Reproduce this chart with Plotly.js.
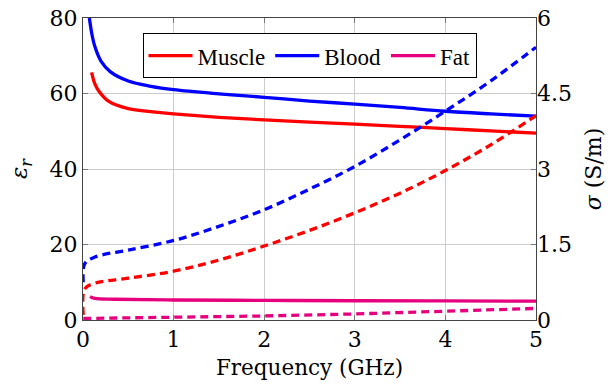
<!DOCTYPE html>
<html>
<head>
<meta charset="utf-8">
<script src="https://cdn.plot.ly/plotly-3.0.1.min.js"></script>
<style>
html,body{margin:0;padding:0;background:#fff;}
#chart{width:612px;height:389px;}
</style>
</head>
<body>
<div id="chart"></div>
<script>
// Permittivity (left axis)
var bloodEpsFreq = [0.07, 0.1, 0.13, 0.2, 0.3, 0.5, 0.75, 1, 1.5, 2, 2.5, 3, 3.5, 4, 4.5, 5];
var bloodEps     = [80, 75.5, 72.5, 68.5, 65.8, 63.3, 61.9, 61.0, 59.9, 59.0, 58.0, 57.2, 56.3, 55.3, 54.6, 54.0];
var muscleEpsFreq = [0.095, 0.13, 0.17, 0.28, 0.5, 0.83, 1, 1.5, 2, 2.5, 3, 3.5, 4, 4.5, 5];
var muscleEps     = [65.6, 62.6, 60.8, 58.0, 56.0, 55.0, 54.6, 53.7, 53.0, 52.4, 51.9, 51.3, 50.7, 50.1, 49.5];
var fatEpsFreq = [0.077, 0.13, 0.35, 1, 2, 3, 4, 5];
var fatEps     = [6.2, 5.7, 5.5, 5.3, 5.2, 5.1, 5.05, 5.0];

// Conductivity (right axis)
var bloodSigFreq = [0.003, 0.02, 0.13, 0.5, 1, 1.5, 2, 2.5, 3, 3.5, 4, 4.5, 5];
var bloodSig     = [0.75, 1.12, 1.25, 1.39, 1.58, 1.86, 2.19, 2.6, 3.05, 3.58, 4.15, 4.75, 5.42];
var muscleSigFreq = [0.003, 0.02, 0.13, 0.5, 1, 1.5, 2, 2.5, 3, 3.5, 4, 4.5, 5];
var muscleSig     = [0.1, 0.62, 0.73, 0.83, 0.97, 1.19, 1.47, 1.78, 2.13, 2.52, 2.97, 3.48, 4.06];
var fatSigFreq = [0.003, 1, 2, 3, 4, 5];
var fatSig     = [0.03, 0.05, 0.08, 0.12, 0.17, 0.23];

var leftTicks = [0, 20, 40, 60, 80];
var rightTicks = [0, 1.5, 3, 4.5, 6];
var rightTickText = ['0', '1.5', '3', '4.5', '6'];
var xTicks = [0, 1, 2, 3, 4, 5];

var cMuscle = '#ff0000', cBlood = '#0000ff', cFat = '#e6007e';
var lw = 3.3, dashPat = '8px,5px';
var axFont = 'DejaVu Serif';
var legFont = 'Liberation Serif';

var traces = [
  {x: muscleEpsFreq, y: muscleEps, name: 'Muscle', mode: 'lines', line: {color: cMuscle, width: lw, shape: 'spline'}, yaxis: 'y'},
  {x: bloodEpsFreq, y: bloodEps, name: 'Blood', mode: 'lines', line: {color: cBlood, width: lw, shape: 'spline'}, yaxis: 'y'},
  {x: fatEpsFreq, y: fatEps, name: 'Fat', mode: 'lines', line: {color: cFat, width: lw, shape: 'spline'}, yaxis: 'y'},
  {x: muscleSigFreq, y: muscleSig, name: 'Muscle σ', mode: 'lines', line: {color: cMuscle, width: lw, dash: dashPat, shape: 'spline'}, yaxis: 'y2', showlegend: false},
  {x: bloodSigFreq, y: bloodSig, name: 'Blood σ', mode: 'lines', line: {color: cBlood, width: lw, dash: dashPat, shape: 'spline'}, yaxis: 'y2', showlegend: false},
  {x: fatSigFreq, y: fatSig, name: 'Fat σ', mode: 'lines', line: {color: cFat, width: lw, dash: dashPat}, yaxis: 'y2', showlegend: false}
];

var layout = {
  width: 612, height: 389,
  margin: {l: 83, r: 76, t: 18, b: 69, pad: 0},
  paper_bgcolor: '#fff', plot_bgcolor: '#fff',
  font: {family: axFont, size: 22, color: '#000'},
  showlegend: true,
  legend: {
    orientation: 'h', x: 0.5, xanchor: 'center', y: 0.95, yanchor: 'top',
    bordercolor: '#000', borderwidth: 1, bgcolor: '#fff',
    itemwidth: 44,
    font: {family: legFont, size: 23, color: '#000'}
  },
  xaxis: {
    range: [0, 5], tickvals: xTicks, ticktext: xTicks.map(String),
    showgrid: true, gridcolor: '#cccccc', gridwidth: 1, zeroline: false,
    showline: true, linecolor: '#444', linewidth: 1, mirror: 'ticks',
    ticks: 'inside', ticklen: 5, tickcolor: '#777',
    tickfont: {family: axFont, size: 22, color: '#000'},
    title: {text: 'Frequency (GHz)', font: {family: axFont, size: 21.5, color: '#000'}, standoff: 8},
    fixedrange: true
  },
  yaxis: {
    range: [0, 80], tickvals: leftTicks, ticktext: leftTicks.map(String),
    showgrid: true, gridcolor: '#cccccc', gridwidth: 1, zeroline: false,
    showline: true, linecolor: '#444', linewidth: 1, mirror: 'ticks',
    ticks: 'inside', ticklen: 5, tickcolor: '#777',
    tickfont: {family: axFont, size: 22, color: '#000'},
    title: {text: '<i>ε</i><sub><i>r</i></sub>', font: {family: axFont, size: 23, color: '#000'}},
    fixedrange: true
  },
  yaxis2: {
    range: [0, 6], overlaying: 'y', side: 'right',
    tickvals: rightTicks, ticktext: rightTickText,
    showgrid: false, zeroline: false, showline: false,
    ticks: '',
    tickfont: {family: axFont, size: 22, color: '#000'},
    title: {text: '<i>σ</i> (S/m)', font: {family: axFont, size: 22, color: '#000'}},
    fixedrange: true
  }
};

Plotly.newPlot('chart', traces, layout, {displayModeBar: false, staticPlot: true});
</script>
</body>
</html>
